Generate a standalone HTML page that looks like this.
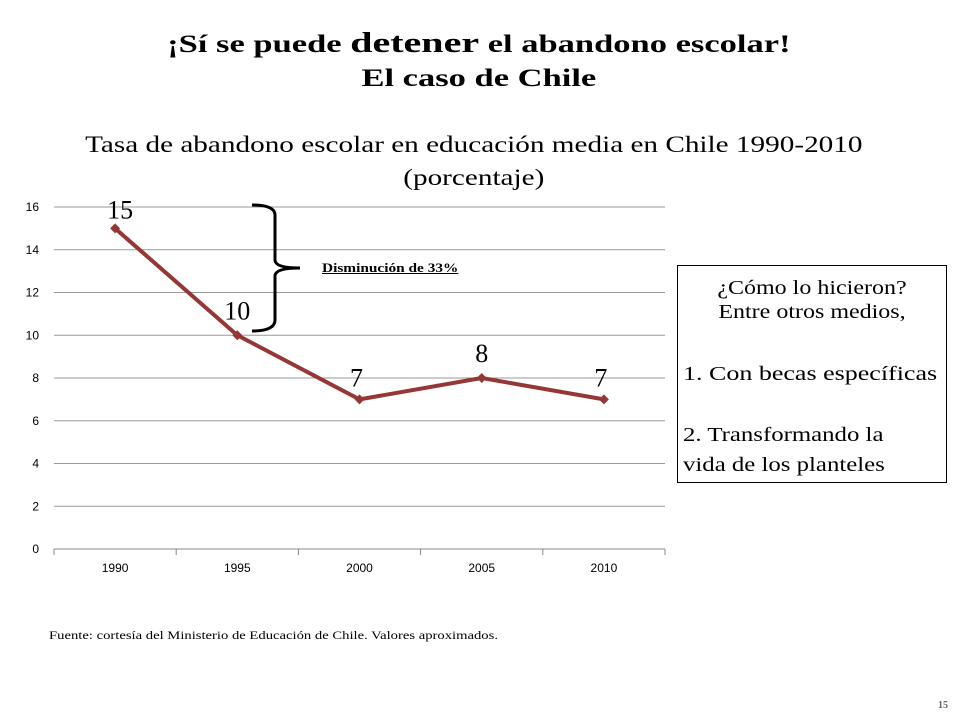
<!DOCTYPE html>
<html><head><meta charset="utf-8"><style>
body{margin:0;background:#fff;}
#root{position:relative;width:960px;height:720px;overflow:hidden;font-family:"Liberation Serif",serif;color:#000;}
.t{position:absolute;white-space:nowrap;}
.c{left:0;width:960px;text-align:center;}
</style></head><body>
<div id="root">
<div class="t c" style="top:26px;font-size:25px;font-weight:bold;line-height:34px;transform:scaleX(1.38);transform-origin:483px 0;">¡Sí se puede <span style="font-size:29px">detener</span> el abandono escolar!<br>El caso de Chile</div>
<div class="t c" style="top:128px;font-size:23px;line-height:33px;transform:scaleX(1.27);transform-origin:503px 0;">Tasa de abandono escolar en educación media en Chile 1990-2010<br>(porcentaje)</div>
<svg id="chart" width="960" height="720" style="position:absolute;left:0;top:0"></svg>
<div class="t" style="left:322px;top:260px;font-size:13px;font-weight:bold;text-decoration:underline;transform:scaleX(1.18);transform-origin:0 0;">Disminución de 33%</div>
<div style="position:absolute;left:677px;top:265px;width:270px;height:218px;border:1px solid #000;box-sizing:border-box;font-size:20px;">
<div class="t" style="left:0;width:268px;text-align:center;top:10px;line-height:24px;transform:scaleX(1.2);transform-origin:134px 0;">¿Cómo lo hicieron?<br>Entre otros medios,</div>
<div class="t" style="left:5px;top:97px;transform:scaleX(1.3);transform-origin:0 0;">1. Con becas específicas</div>
<div class="t" style="left:5px;top:154px;line-height:30px;transform:scaleX(1.24);transform-origin:0 0;">2. Transformando la<br>vida de los planteles</div>
</div>
<div class="t" style="left:49px;top:628px;font-size:12px;transform:scaleX(1.22);transform-origin:0 0;">Fuente: cortesía del Ministerio de Educación de Chile. Valores aproximados.</div>
<div class="t" style="left:938px;top:700px;font-size:10px;font-weight:bold;color:#666;">15</div>
</div>
<script>
const categories=["1990","1995","2000","2005","2010"];
const values=[15,10,7,8,7];
const labels=["15","10","7","8","7"];
const yTicks=[0,2,4,6,8,10,12,14,16];
const NS="http://www.w3.org/2000/svg";
const svg=document.getElementById('chart');
const L=54,R=665,T=207,B=549,yMax=16;
const x=i=>L+(R-L)/categories.length*(i+0.5);
const y=v=>B-(B-T)*v/yMax;
function mk(t,a){const e=document.createElementNS(NS,t);for(const k in a)e.setAttribute(k,a[k]);svg.appendChild(e);return e;}
yTicks.forEach(v=>{
 const g=mk('line',{x1:L,x2:R,y1:y(v),y2:y(v),stroke:v===0?'#888':'#999','stroke-width':1});
 
 
 const t=mk('text',{x:L-15,y:y(v)+4,'text-anchor':'end','font-size':12,'font-family':'Liberation Sans, sans-serif'});
 t.textContent=v;
 
 
});
for(let i=0;i<=categories.length;i++){
 const xx=L+(R-L)/categories.length*i;
 const tk=mk('line',{x1:xx,x2:xx,y1:B,y2:B+6,stroke:'#888'});
 
 
}
categories.forEach((c,i)=>{
 const t=mk('text',{x:x(i),y:B+23,'text-anchor':'middle','font-size':12,'font-family':'Liberation Sans, sans-serif'});
 t.textContent=c;
 
 
});
const br=mk('path',{d:'M252 205 Q275 205 275 215 L275 260 Q275 268 300 268 Q275 268 275 276 L275 320 Q275 331 252 331',fill:'none',stroke:'#000','stroke-width':3});


const pl=mk('polyline',{points:values.map((v,i)=>x(i)+','+y(v)).join(' '),fill:'none',stroke:'#953735','stroke-width':4,'stroke-linejoin':'round'});


values.forEach((v,i)=>{
 const px=x(i),py=y(v);
 const m=mk('polygon',{points:`${px},${py-5} ${px+5},${py} ${px},${py+5} ${px-5},${py}`,fill:'#953735'});
 
 
 const low=(i===2||i===4);
 const t=mk('text',{x:px+(i===0?5:low?-3:0),y:py-(low?13:i===0?10:16),'text-anchor':'middle','font-size':26,'font-family':'Liberation Serif, serif'});
 t.textContent=labels[i];
 
 
});
</script>
</body></html>
